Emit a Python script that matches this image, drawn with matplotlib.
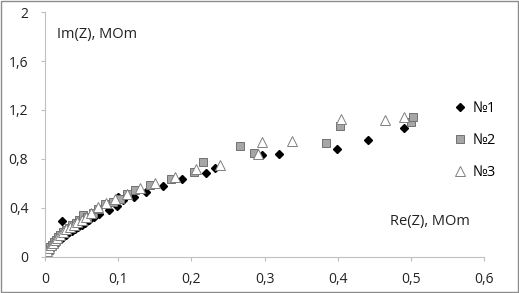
import matplotlib.pyplot as plt
from matplotlib.ticker import FuncFormatter
from matplotlib.patches import Rectangle

# series №1 (black diamonds)
re1 = [0.001, 0.002, 0.004, 0.006, 0.008, 0.010, 0.013, 0.016, 0.019, 0.022,
       0.025, 0.029, 0.033, 0.037, 0.041, 0.045, 0.050, 0.055, 0.060, 0.023,
       0.067, 0.074, 0.087, 0.098, 0.100, 0.106, 0.122, 0.138, 0.161, 0.187,
       0.220, 0.232, 0.296, 0.320, 0.399, 0.442, 0.490]
im1 = [0.005, 0.020, 0.040, 0.055, 0.070, 0.085, 0.100, 0.120, 0.135, 0.150,
       0.165, 0.180, 0.200, 0.215, 0.230, 0.245, 0.265, 0.280, 0.300, 0.290,
       0.324, 0.351, 0.384, 0.416, 0.490, 0.465, 0.487, 0.533, 0.580, 0.634,
       0.683, 0.730, 0.833, 0.838, 0.880, 0.955, 1.050]

# series №2 (grey squares)
re2 = [0.001, 0.003, 0.005, 0.007, 0.009, 0.012, 0.015, 0.018, 0.021, 0.025,
       0.029, 0.033, 0.037, 0.042, 0.047, 0.052, 0.058, 0.065, 0.072, 0.082,
       0.093, 0.103, 0.112, 0.123, 0.143, 0.172, 0.203, 0.216, 0.266, 0.285,
       0.384, 0.403, 0.500, 0.503]
im2 = [0.010, 0.040, 0.060, 0.080, 0.100, 0.120, 0.140, 0.160, 0.180, 0.200,
       0.220, 0.240, 0.260, 0.280, 0.300, 0.340, 0.330, 0.360, 0.390, 0.430,
       0.450, 0.470, 0.510, 0.547, 0.590, 0.637, 0.694, 0.775, 0.906, 0.846,
       0.930, 1.070, 1.100, 1.145]

# series №3 (open triangles)
re3 = [0.001, 0.003, 0.005, 0.008, 0.011, 0.014, 0.017, 0.021, 0.025, 0.029,
       0.034, 0.039, 0.044, 0.050, 0.056, 0.063, 0.073, 0.083, 0.096, 0.112,
       0.130, 0.150, 0.178, 0.207, 0.239, 0.291, 0.296, 0.338, 0.405, 0.464,
       0.490]
im3 = [0.015, 0.045, 0.070, 0.095, 0.115, 0.135, 0.155, 0.180, 0.200, 0.225,
       0.245, 0.265, 0.285, 0.305, 0.330, 0.360, 0.410, 0.438, 0.470, 0.510,
       0.560, 0.607, 0.650, 0.716, 0.750, 0.840, 0.940, 0.950, 1.130, 1.120,
       1.140]

xticks = [0, 0.1, 0.2, 0.3, 0.4, 0.5, 0.6]
yticks = [0, 0.4, 0.8, 1.2, 1.6, 2.0]


def comma(v, pos):
    s = ('%.1f' % v).rstrip('0').rstrip('.')
    return s.replace('.', ',')


def main():
    plt.rcParams['font.family'] = ['Open Sans', 'DejaVu Sans']
    fig = plt.figure(figsize=(5.19, 2.93), dpi=100)
    ax = fig.add_axes([0.0867, 0.123, 0.846, 0.836])

    ax.plot(re1, im1, linestyle='none', marker='D', markersize=4.2,
            color='black', label='№1')
    ax.plot(re2, im2, linestyle='none', marker='s', markersize=5.5,
            markerfacecolor='#a6a6a6', markeredgecolor='#707070',
            markeredgewidth=0.7, label='№2')
    ax.plot(re3, im3, linestyle='none', marker='^', markersize=6.5,
            markerfacecolor='white', markeredgecolor='#808080',
            markeredgewidth=0.7, label='№3')

    ax.set_xlim(0, 0.6)
    ax.set_ylim(0, 2)
    ax.set_xticks(xticks)
    ax.set_yticks(yticks)
    ax.xaxis.set_major_formatter(FuncFormatter(comma))
    ax.yaxis.set_major_formatter(FuncFormatter(comma))
    ax.tick_params(direction='out', length=3, width=0.8, color='#bfbfbf',
                   labelsize=10, labelcolor='#222222')
    ax.tick_params(axis='x', pad=8)
    ax.tick_params(axis='y', pad=9)

    for side in ['top', 'right']:
        ax.spines[side].set_visible(False)
    for side in ['left', 'bottom']:
        ax.spines[side].set_color('#bfbfbf')
        ax.spines[side].set_linewidth(0.8)

    ax.text(0.0273, 0.91, 'Im(Z), MOm', transform=ax.transAxes,
            fontsize=10.5, va='center', ha='left', color='#222222')
    ax.text(0.785, 0.143, 'Re(Z), MOm', transform=ax.transAxes,
            fontsize=10.5, va='center', ha='left', color='#222222')

    ax.legend(loc='upper left', bbox_to_anchor=(0.917, 0.665),
              frameon=False, fontsize=10.5, handlelength=0.7,
              handletextpad=0.5, labelspacing=1.15, borderpad=0)

    fig.patches.append(Rectangle((0.001, 0.002), 0.997, 0.995,
                                 transform=fig.transFigure, fill=False,
                                 edgecolor='#8c8c8c', linewidth=1.0))

    fig.savefig('out.png', dpi=100)


if __name__ == '__main__':
    main()
